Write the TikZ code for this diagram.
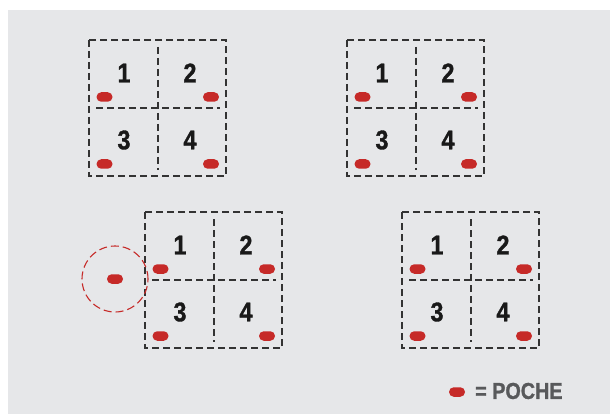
\documentclass[tikz,border=0pt]{standalone}
\usepackage{fontspec}
\setmainfont{Liberation Sans}
\newfontfamily\narrowfont[FakeStretch=0.86, FakeBold=1.2]{Liberation Sans}
\definecolor{bggray}{HTML}{E6E7E9}
\definecolor{pochered}{HTML}{C62A28}
\definecolor{linegray}{HTML}{333333}
\definecolor{legendgray}{HTML}{58595B}
\begin{document}
\begin{tikzpicture}[
    x=1pt, y=-1pt,
    gridline/.style={draw=linegray, line width=1.5pt, dash pattern=on 7pt off 4pt},
    pocket/.style={fill=pochered, rounded corners=4.7pt, minimum width=16pt, minimum height=9.5pt, inner sep=0pt},
    number/.style={font=\narrowfont\bfseries\fontsize{27}{27}\selectfont, text=black!90, inner sep=0pt},
  ]
  \useasboundingbox (0,0) rectangle (610,414);
  \fill[bggray] (8,10) rectangle (610,414);

  % ---- quatre grilles ----
  \foreach \g/\gx/\gy in {a/89/40, b/347/40, c/145/212, d/402/212} {
    \begin{scope}[shift={(\gx,\gy)}]
      \draw[gridline] (0,0) rectangle (137,136);
      \draw[gridline] (69,7) -- (69,130);
      \draw[gridline] (7,68) -- (131,68);
      \foreach \n/\nx/\ny/\px/\py in {1/35/33/15.5/57, 2/101/33/122/57, 3/35/100/15.5/124, 4/101/100/122/124} {
        \node[number] (\g\n) at (\nx,\ny) {\n};
        \node[pocket] (\g p\n) at (\px,\py) {};
      }
    \end{scope}
  }

  % ---- poche isolee ----
  \node[draw=pochered, line width=1.1pt, dash pattern=on 8pt off 4pt, circle, minimum size=66pt] (lost) at (115,279) {};
  \node[pocket] (lostp) at (lost.center) {};

  % ---- legende ----
  \node[pocket] (key) at (457,392) {};
  \node[anchor=west, inner sep=0pt, text=legendgray, font=\narrowfont\bfseries\fontsize{23}{23}\selectfont] (keytext) at (475,391) {= POCHE};
\end{tikzpicture}
\end{document}
